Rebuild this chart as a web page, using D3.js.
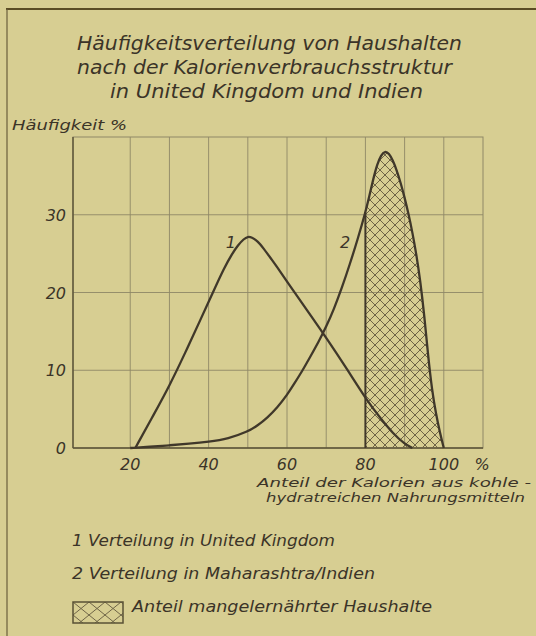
<!DOCTYPE html>
<html><head><meta charset="utf-8">
<script src="https://cdn.jsdelivr.net/npm/d3@7"></script>
<style>
html,body{margin:0;padding:0;background:#d7ce92;}
svg{display:block;}
text{font-family:"DejaVu Sans",Verdana,sans-serif;font-style:italic;fill:#3b3428;}
</style></head>
<body>
<script>
const titleLines = ["Häufigkeitsverteilung von Haushalten","nach der Kalorienverbrauchsstruktur","in United Kingdom und Indien"];
const yAxisTitle = "Häufigkeit %";
const xAxisTitle = ["Anteil der Kalorien aus kohle -","hydratreichen Nahrungsmitteln"];
const xTicks = [20,40,60,80,100];
const xGrid = [20,30,40,50,60,70,80,90,100];
const yTicks = [0,10,20,30];
const seriesLabels = ["1","2"];
const legendTexts = ["1 Verteilung in United Kingdom","2 Verteilung in Maharashtra/Indien","Anteil mangelernährter Haushalte"];

// Series 1: United Kingdom
const ukX = [21.3,26,30,34,38,41,44,46,47.5,49,50,51,52.5,54,56,58,60,65,70,75.5,80,84,87,90,92];
const ukY = [0,4.3,8,12.2,16.6,19.9,23.2,25.0,26.1,26.9,27.2,27.1,26.6,25.7,24.3,22.9,21.4,17.8,14.2,10,6.4,3.7,1.9,0.5,0];
// Series 2: Maharashtra / Indien
const inX = [20,25,30,35,40,45,50,52.5,55,57.5,60,62,64,66,68,70,72,74,76,78,80,81,82,83,84,85,86,87,88,89,90,91,92,93,94,95,96,97,98,99,100];
const inY = [0,0.15,0.35,0.55,0.8,1.2,2.1,2.9,3.9,5.2,6.8,8.4,10,11.8,13.6,15.6,17.9,20.6,23.6,26.8,30.3,32.4,34.6,36.5,37.7,38.2,37.9,37.0,35.7,34.1,32.2,30.1,27.7,24.9,21.5,17.2,11.8,7.4,4.4,2.0,0];
const hatchFrom = 80;

const W=536,H=636;
const svg=d3.select("body").append("svg").attr("width",W).attr("height",H);
const ink="#40382a", grid="#8f8866";

// frame
svg.append("line").attr("x1",6).attr("x2",W).attr("y1",9).attr("y2",9).attr("stroke","#5a4c24").attr("stroke-width",2);
svg.append("line").attr("x1",7).attr("x2",7).attr("y1",9).attr("y2",H).attr("stroke","#6a5f3c").attr("stroke-width",1.2);

// hatch patterns
const defs=svg.append("defs");
const pat=defs.append("pattern").attr("id","hatch").attr("patternUnits","userSpaceOnUse").attr("width",10).attr("height",10);
pat.append("path").attr("d","M0,0L10,10M10,0L0,10M-1,9L1,11M9,-1L11,1").attr("stroke","#6e6446").attr("stroke-width",1);
const pat2=defs.append("pattern").attr("id","hatch2").attr("patternUnits","userSpaceOnUse").attr("width",16).attr("height",13)
  .attr("x",73).attr("y",602);
pat2.append("path").attr("d","M0,0L16,13M16,0L0,13").attr("stroke","#6e6446").attr("stroke-width",1);

// title
svg.append("g").selectAll("text").data(titleLines).join("text")
  .attr("x",(d,i)=>[77,77,110][i]).attr("y",(d,i)=>50+i*24)
  .attr("textLength",(d,i)=>[385,375,313][i]).attr("lengthAdjust","spacingAndGlyphs")
  .attr("font-size",19.5).text(d=>d);

const x=d3.scaleLinear().domain([5.4,110]).range([73,483]);
const y=d3.scaleLinear().domain([0,40]).range([448,137]);

// grid
const g=svg.append("g");
g.selectAll(".vg").data(xGrid).join("line").attr("x1",d=>x(d)).attr("x2",d=>x(d)).attr("y1",y(40)).attr("y2",y(0))
  .attr("stroke",grid).attr("stroke-width",0.9);
g.selectAll(".hg").data(yTicks.slice(1)).join("line").attr("x1",x(5.4)).attr("x2",x(110)).attr("y1",d=>y(d)).attr("y2",d=>y(d))
  .attr("stroke",grid).attr("stroke-width",0.9);
g.append("rect").attr("x",x(5.4)).attr("y",y(40)).attr("width",x(110)-x(5.4)).attr("height",y(0)-y(40))
  .attr("fill","none").attr("stroke",grid).attr("stroke-width",1);
g.append("line").attr("x1",x(5.4)).attr("x2",x(5.4)).attr("y1",y(40)).attr("y2",y(0)).attr("stroke","#5a5236").attr("stroke-width",1.4);
g.append("line").attr("x1",x(5.4)).attr("x2",x(110)).attr("y1",y(0)).attr("y2",y(0)).attr("stroke","#5a5236").attr("stroke-width",1.6);

const curve=d3.curveBasis;
// hatched area
const hatchPts=inX.map((v,i)=>[v,inY[i]]).filter(p=>p[0]>=hatchFrom);
const area=d3.area().x(d=>x(d[0])).y0(y(0)).y1(d=>y(d[1])).curve(curve);
svg.append("path").attr("d",area(hatchPts)).attr("fill","url(#hatch)");
svg.append("line").attr("x1",x(hatchFrom)).attr("x2",x(hatchFrom)).attr("y1",y(0)).attr("y2",y(inY[inX.indexOf(hatchFrom)]))
  .attr("stroke",ink).attr("stroke-width",2);

// curves
const line=d3.line().x(d=>x(d[0])).y(d=>y(d[1])).curve(curve);
svg.append("path").attr("d",line(ukX.map((v,i)=>[v,ukY[i]]))).attr("fill","none").attr("stroke",ink).attr("stroke-width",2.3);
svg.append("path").attr("d",line(inX.map((v,i)=>[v,inY[i]]))).attr("fill","none").attr("stroke",ink).attr("stroke-width",2.3);

// series labels
svg.append("text").attr("x",x(45.7)).attr("y",248).attr("font-size",16).attr("text-anchor","middle").text(seriesLabels[0]);
svg.append("text").attr("x",x(74.8)).attr("y",248).attr("font-size",16).attr("text-anchor","middle").text(seriesLabels[1]);

// y tick labels
svg.append("g").selectAll("text").data(yTicks).join("text").attr("x",66).attr("y",d=>y(d)+6)
  .attr("text-anchor","end").attr("font-size",16).text(d=>d);
// x tick labels
svg.append("g").selectAll("text").data(xTicks).join("text").attr("x",d=>x(d)).attr("y",470)
  .attr("text-anchor","middle").attr("font-size",16).text(d=>d);
svg.append("text").attr("x",482).attr("y",470).attr("text-anchor","middle").attr("font-size",16).text("%");

svg.append("text").attr("x",12).attr("y",130).attr("font-size",14.5)
  .attr("textLength",115).attr("lengthAdjust","spacingAndGlyphs").text(yAxisTitle);
svg.append("g").selectAll("text").data(xAxisTitle).join("text").attr("x",(d,i)=>[257,266][i]).attr("y",(d,i)=>487+i*15)
  .attr("textLength",(d,i)=>[274,259][i]).attr("lengthAdjust","spacingAndGlyphs")
  .attr("font-size",13).text(d=>d);

// legend
svg.append("text").attr("x",72).attr("y",546).attr("font-size",15)
  .attr("textLength",263).attr("lengthAdjust","spacingAndGlyphs").text(legendTexts[0]);
svg.append("text").attr("x",72).attr("y",579).attr("font-size",15)
  .attr("textLength",303).attr("lengthAdjust","spacingAndGlyphs").text(legendTexts[1]);
svg.append("rect").attr("x",73).attr("y",602).attr("width",50).attr("height",21).attr("fill","url(#hatch2)")
  .attr("stroke","#5a5236").attr("stroke-width",1.5);
svg.append("text").attr("x",132).attr("y",612).attr("font-size",15)
  .attr("textLength",300).attr("lengthAdjust","spacingAndGlyphs").text(legendTexts[2]);
</script>
</body></html>
